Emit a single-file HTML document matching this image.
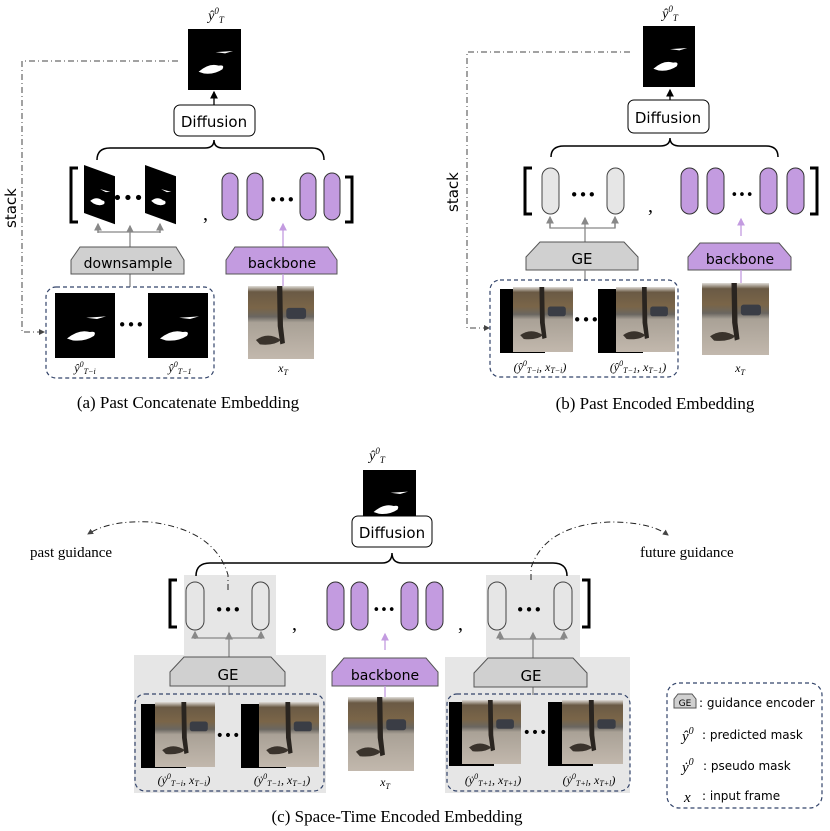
<!DOCTYPE html>
<html><head><meta charset="utf-8"><style>
html,body{margin:0;padding:0;background:#fff}
svg{display:block}
.lb{font-family:"DejaVu Sans","Liberation Sans",sans-serif}
.sf{font-family:"Liberation Serif",serif}
</style></head><body>
<svg width="830" height="831" viewBox="0 0 830 831" xmlns="http://www.w3.org/2000/svg">
<defs>
<linearGradient id="pg" x1="0" y1="0" x2="0" y2="1">
<stop offset="0" stop-color="#e0ddd8"/><stop offset="0.08" stop-color="#6a5a45"/><stop offset="0.3" stop-color="#7a6548"/><stop offset="0.42" stop-color="#6a6660"/><stop offset="0.5" stop-color="#a9a196"/><stop offset="1" stop-color="#c2b8ad"/>
</linearGradient>
<g id="photo"><rect width="100" height="100" fill="url(#pg)"/><rect x="58" y="30" width="30" height="15" rx="4" fill="#3a3d45"/><path d="M44 0 L52 0 L53 55 L56 78 L49 80 L45 55Z" fill="#2a2520"/><path d="M12 74 Q30 62 50 74 Q40 82 18 80Z" fill="#3a332c"/></g>
<g id="mask"><rect width="100" height="100" fill="#000"/><path d="M52 38 L85 36 L70 40Z M20 70 Q40 55 58 60 Q70 58 65 66 Q50 75 30 73Z" fill="#fff"/></g>
<marker id="ak" markerWidth="6" markerHeight="6" refX="5" refY="3" orient="auto"><path d="M0 0 L6 3 L0 6Z" fill="#000"/></marker>
<marker id="ag" markerWidth="6" markerHeight="6" refX="5" refY="3" orient="auto"><path d="M0 0 L6 3 L0 6Z" fill="#888"/></marker>
<marker id="ap" markerWidth="6" markerHeight="6" refX="5" refY="3" orient="auto"><path d="M0 0 L6 3 L0 6Z" fill="#c39be0"/></marker>
<marker id="ad" markerWidth="6" markerHeight="6" refX="5" refY="3" orient="auto"><path d="M0 0 L6 3 L0 6Z" fill="#444"/></marker>
</defs>

<!-- ===== Panel (a) ===== -->
<text x="216" y="20" class="sf" font-size="14" font-style="italic" text-anchor="middle">ŷ<tspan font-size="9" dy="-6">0</tspan><tspan font-size="9" dy="9">T</tspan></text>
<use href="#mask" transform="translate(188,29) scale(0.53,0.61)"/>
<path d="M178 61 H22 V332 H44" fill="none" stroke="#444" stroke-width="1" stroke-dasharray="6,3,1,3" marker-end="url(#ad)"/>
<text x="0" y="0" class="lb" font-size="15" transform="translate(16,228) rotate(-90)">stack</text>
<line x1="214" y1="105" x2="214" y2="92" stroke="#000" stroke-width="1.3" marker-end="url(#ak)"/>
<rect x="174" y="105" width="81" height="31" rx="6" fill="#fff" stroke="#000" stroke-width="1"/>
<text x="214" y="127" class="lb" font-size="15" text-anchor="middle">Diffusion</text>
<path d="M97 160 Q97 148 110 148 H205 Q214 148 214 140 Q214 148 223 148 H312 Q324 148 324 160" fill="none" stroke="#000" stroke-width="1.5"/>
<path d="M78 168 H71 V222 H78" fill="none" stroke="#000" stroke-width="3"/>
<path d="M345 177 H352 V222 H345" fill="none" stroke="#000" stroke-width="3"/>
<g transform="translate(84,165) skewY(20)"><use href="#mask" transform="scale(0.31,0.48)"/></g>
<g transform="translate(145,165) skewY(20)"><use href="#mask" transform="scale(0.31,0.48)"/></g>
<text x="128" y="204" font-size="18" text-anchor="middle" class="lb">•••</text>
<text x="203" y="220" font-size="20" class="sf">,</text>
<g fill="#c39be0" stroke="#333" stroke-width="1"><rect x="222" y="173" width="16" height="47" rx="8"/><rect x="247" y="173" width="16" height="47" rx="8"/><rect x="300" y="173" width="16" height="47" rx="8"/><rect x="324" y="173" width="16" height="47" rx="8"/></g>
<text x="282" y="205" font-size="15" text-anchor="middle" class="lb">•••</text>
<line x1="283" y1="250" x2="283" y2="224" stroke="#c39be0" stroke-width="1.3" marker-end="url(#ap)"/>
<g stroke="#888" stroke-width="1.3" fill="none"><line x1="130" y1="287" x2="130" y2="226" marker-end="url(#ag)"/><path d="M98 226 V232 H160 V226"/><line x1="98" y1="233" x2="98" y2="224" marker-end="url(#ag)"/><line x1="160" y1="233" x2="160" y2="224" marker-end="url(#ag)"/></g>
<polygon points="71,260 80,247 176,247 184,260 184,274 71,274" fill="#d0d0d0" stroke="#555" stroke-width="1"/>
<text x="128" y="268" class="lb" font-size="14" text-anchor="middle">downsample</text>
<polygon points="226,260 235,247 328,247 337,260 337,274 226,274" fill="#c39be0" stroke="#555" stroke-width="1"/>
<text x="282" y="268" class="lb" font-size="14" text-anchor="middle">backbone</text>
<line x1="283" y1="274" x2="283" y2="290" stroke="#c39be0" stroke-width="1.3"/>
<rect x="46" y="287" width="168" height="91" rx="10" fill="none" stroke="#33446a" stroke-width="1.2" stroke-dasharray="4,3"/>
<use href="#mask" transform="translate(55,293) scale(0.6,0.65)"/>
<use href="#mask" transform="translate(148,293) scale(0.6,0.65)"/>
<text x="131" y="330" font-size="15" text-anchor="middle" class="lb">•••</text>
<use href="#photo" transform="translate(248,286) scale(0.66,0.73)"/>
<text x="85" y="372" class="sf" font-size="12" font-style="italic" text-anchor="middle">ŷ<tspan font-size="8" dy="-5">0</tspan><tspan font-size="8" dy="7">T−i</tspan></text>
<text x="180" y="372" class="sf" font-size="12" font-style="italic" text-anchor="middle">ŷ<tspan font-size="8" dy="-5">0</tspan><tspan font-size="8" dy="7">T−1</tspan></text>
<text x="283" y="372" class="sf" font-size="12" font-style="italic" text-anchor="middle">x<tspan font-size="8" dy="3">T</tspan></text>
<text x="188" y="408" class="sf" font-size="17" text-anchor="middle">(a) Past Concatenate Embedding</text>

<!-- ===== Panel (b) ===== -->
<text x="670" y="18" class="sf" font-size="14" font-style="italic" text-anchor="middle">ŷ<tspan font-size="9" dy="-6">0</tspan><tspan font-size="9" dy="9">T</tspan></text>
<use href="#mask" transform="translate(643,26) scale(0.52,0.61)"/>
<path d="M630 52 H467 V328 H489" fill="none" stroke="#444" stroke-width="1" stroke-dasharray="6,3,1,3" marker-end="url(#ad)"/>
<text x="0" y="0" class="lb" font-size="15" transform="translate(458,212) rotate(-90)">stack</text>
<line x1="670" y1="100" x2="670" y2="90" stroke="#000" stroke-width="1.3" marker-end="url(#ak)"/>
<rect x="628" y="100" width="81" height="33" rx="6" fill="#fff" stroke="#000" stroke-width="1"/>
<text x="668" y="123" class="lb" font-size="15" text-anchor="middle">Diffusion</text>
<path d="M551 157 Q551 146 564 146 H660 Q670 146 670 138 Q670 146 680 146 H766 Q778 146 778 157" fill="none" stroke="#000" stroke-width="1.5"/>
<path d="M532 168 H525 V214 H532" fill="none" stroke="#000" stroke-width="3"/>
<path d="M810 168 H817 V214 H810" fill="none" stroke="#000" stroke-width="3"/>
<g fill="#e6e6e6" stroke="#444" stroke-width="1"><rect x="542" y="168" width="17" height="46" rx="8.5"/><rect x="607" y="168" width="17" height="46" rx="8.5"/></g>
<text x="583" y="200" font-size="15" text-anchor="middle" class="lb">•••</text>
<text x="648" y="212" font-size="20" class="sf">,</text>
<g fill="#c39be0" stroke="#333" stroke-width="1"><rect x="681" y="168" width="17" height="46" rx="8.5"/><rect x="707" y="168" width="17" height="46" rx="8.5"/><rect x="760" y="168" width="17" height="46" rx="8.5"/><rect x="787" y="168" width="17" height="46" rx="8.5"/></g>
<text x="742" y="199" font-size="13" text-anchor="middle" class="lb">•••</text>
<line x1="741" y1="236" x2="741" y2="219" stroke="#c39be0" stroke-width="1.3" marker-end="url(#ap)"/>
<g stroke="#888" stroke-width="1.3" fill="none"><line x1="585" y1="242" x2="585" y2="218" marker-end="url(#ag)"/><path d="M550 220 V228 H615 V220"/><line x1="550" y1="228" x2="550" y2="217" marker-end="url(#ag)"/><line x1="615" y1="228" x2="615" y2="217" marker-end="url(#ag)"/></g>
<polygon points="526,257 540,242 624,242 638,257 638,270 526,270" fill="#d0d0d0" stroke="#555" stroke-width="1"/>
<text x="582" y="264" class="lb" font-size="15" text-anchor="middle">GE</text>
<polygon points="688,257 700,243 779,243 791,257 791,270 688,270" fill="#c39be0" stroke="#555" stroke-width="1"/>
<text x="740" y="264" class="lb" font-size="14" text-anchor="middle">backbone</text>
<line x1="741" y1="270" x2="741" y2="285" stroke="#c39be0" stroke-width="1.3"/>
<line x1="585" y1="270" x2="585" y2="281" stroke="#888" stroke-width="1.3"/>
<rect x="490" y="280" width="188" height="97" rx="10" fill="none" stroke="#33446a" stroke-width="1.2" stroke-dasharray="4,3"/>
<rect x="500" y="289" width="45" height="64" fill="#000"/><use href="#photo" transform="translate(513,287) scale(0.6,0.65)"/>
<rect x="598" y="289" width="45" height="64" fill="#000"/><use href="#photo" transform="translate(616,287) scale(0.59,0.65)"/>
<text x="586" y="325" font-size="15" text-anchor="middle" class="lb">•••</text>
<use href="#photo" transform="translate(702,283) scale(0.67,0.72)"/>
<text x="540" y="371" class="sf" font-size="12" font-style="italic" text-anchor="middle">(ŷ<tspan font-size="8" dy="-5">0</tspan><tspan font-size="8" dy="7">T−i</tspan><tspan dy="-2">, x</tspan><tspan font-size="8" dy="2">T−i</tspan><tspan dy="-2">)</tspan></text>
<text x="638" y="371" class="sf" font-size="12" font-style="italic" text-anchor="middle">(ŷ<tspan font-size="8" dy="-5">0</tspan><tspan font-size="8" dy="7">T−1</tspan><tspan dy="-2">, x</tspan><tspan font-size="8" dy="2">T−1</tspan><tspan dy="-2">)</tspan></text>
<text x="740" y="372" class="sf" font-size="12" font-style="italic" text-anchor="middle">x<tspan font-size="8" dy="3">T</tspan></text>
<text x="655" y="409" class="sf" font-size="17" text-anchor="middle">(b) Past Encoded Embedding</text>

<!-- ===== Panel (c) ===== -->
<text x="377" y="460" class="sf" font-size="14" font-style="italic" text-anchor="middle">ŷ<tspan font-size="9" dy="-6">0</tspan><tspan font-size="9" dy="9">T</tspan></text>
<use href="#mask" transform="translate(363,470) scale(0.53,0.6)"/>
<line x1="390" y1="516" x2="390" y2="533" stroke="#000" stroke-width="1.3" marker-end="url(#ak)" transform="rotate(180 390 524.5)"/>
<rect x="352" y="516" width="80" height="31" rx="6" fill="#fff" stroke="#000" stroke-width="1"/>
<text x="392" y="538" class="lb" font-size="15" text-anchor="middle">Diffusion</text>
<rect x="184" y="575" width="92" height="80" fill="#e6e6e6"/>
<rect x="134" y="655" width="192" height="138" fill="#e6e6e6"/>
<rect x="486" y="575" width="94" height="82" fill="#e6e6e6"/>
<rect x="445" y="657" width="185" height="136" fill="#e6e6e6"/>
<path d="M196 576 Q196 563 210 563 H382 Q392 563 392 553 Q392 563 402 563 H553 Q567 563 567 576" fill="none" stroke="#000" stroke-width="1.5"/>
<path d="M228 590 V575 Q215 530 150 522 Q110 520 88 534" fill="none" stroke="#222" stroke-width="1" stroke-dasharray="6,3,1,3" marker-end="url(#ad)"/>
<path d="M531 580 V568 Q545 525 610 522 Q650 522 668 535" fill="none" stroke="#222" stroke-width="1" stroke-dasharray="6,3,1,3" marker-end="url(#ad)"/>
<text x="30" y="557" class="sf" font-size="15">past guidance</text>
<text x="640" y="557" class="sf" font-size="15">future guidance</text>
<path d="M177 580 H170 V627 H177" fill="none" stroke="#000" stroke-width="3"/>
<path d="M582 580 H589 V627 H582" fill="none" stroke="#000" stroke-width="3"/>
<g fill="#e6e6e6" stroke="#444" stroke-width="1"><rect x="186" y="582" width="18" height="48" rx="9"/><rect x="252" y="582" width="17" height="48" rx="8.5"/><rect x="488" y="582" width="18" height="48" rx="9"/><rect x="554" y="582" width="18" height="48" rx="9"/></g>
<text x="228" y="615" font-size="15" text-anchor="middle" class="lb">•••</text>
<text x="529" y="615" font-size="15" text-anchor="middle" class="lb">•••</text>
<text x="292" y="630" font-size="20" class="sf">,</text>
<text x="458" y="630" font-size="20" class="sf">,</text>
<g fill="#c39be0" stroke="#333" stroke-width="1"><rect x="327" y="582" width="17" height="48" rx="8.5"/><rect x="351" y="582" width="17" height="48" rx="8.5"/><rect x="401" y="582" width="17" height="48" rx="8.5"/><rect x="426" y="582" width="17" height="48" rx="8.5"/></g>
<text x="384" y="614" font-size="13" text-anchor="middle" class="lb">•••</text>
<line x1="385" y1="650" x2="385" y2="634" stroke="#c39be0" stroke-width="1.3" marker-end="url(#ap)"/>
<g stroke="#888" stroke-width="1.3" fill="none"><line x1="229" y1="657" x2="229" y2="633" marker-end="url(#ag)"/><path d="M195 633 V638 H261 V633"/><line x1="195" y1="639" x2="195" y2="632" marker-end="url(#ag)"/><line x1="261" y1="639" x2="261" y2="632" marker-end="url(#ag)"/>
<line x1="533" y1="658" x2="533" y2="633" marker-end="url(#ag)"/><path d="M500 633 V639 H564 V633"/><line x1="500" y1="640" x2="500" y2="632" marker-end="url(#ag)"/><line x1="564" y1="640" x2="564" y2="632" marker-end="url(#ag)"/>
<line x1="229" y1="686" x2="229" y2="695"/><line x1="533" y1="687" x2="533" y2="695"/></g>
<polygon points="170,672 184,657 271,657 285,672 285,686 170,686" fill="#d0d0d0" stroke="#555" stroke-width="1"/>
<text x="228" y="680" class="lb" font-size="15" text-anchor="middle">GE</text>
<polygon points="474,673 488,658 573,658 587,673 587,687 474,687" fill="#d0d0d0" stroke="#555" stroke-width="1"/>
<text x="531" y="681" class="lb" font-size="15" text-anchor="middle">GE</text>
<polygon points="332,672 344,658 426,658 438,672 438,686 332,686" fill="#c39be0" stroke="#555" stroke-width="1"/>
<text x="385" y="680" class="lb" font-size="14" text-anchor="middle">backbone</text>
<line x1="385" y1="686" x2="385" y2="699" stroke="#c39be0" stroke-width="1.3"/>
<rect x="135" y="694" width="189" height="97" rx="10" fill="none" stroke="#33446a" stroke-width="1.2" stroke-dasharray="4,3"/>
<rect x="447" y="694" width="183" height="97" rx="10" fill="none" stroke="#33446a" stroke-width="1.2" stroke-dasharray="4,3"/>
<rect x="141" y="704" width="45" height="64" fill="#000"/><use href="#photo" transform="translate(155,702) scale(0.6,0.65)"/>
<rect x="241" y="704" width="45" height="64" fill="#000"/><use href="#photo" transform="translate(259,702) scale(0.6,0.65)"/>
<rect x="449" y="702" width="45" height="64" fill="#000"/><use href="#photo" transform="translate(462,700) scale(0.59,0.64)"/>
<rect x="548" y="702" width="45" height="64" fill="#000"/><use href="#photo" transform="translate(562,700) scale(0.61,0.64)"/>
<text x="228" y="740" font-size="14" text-anchor="middle" class="lb">•••</text>
<text x="535" y="737" font-size="14" text-anchor="middle" class="lb">•••</text>
<use href="#photo" transform="translate(348,697) scale(0.66,0.74)"/>
<g class="sf" font-size="12" font-style="italic" text-anchor="middle">
<text x="184" y="784">(ẏ<tspan font-size="8" dy="-5">0</tspan><tspan font-size="8" dy="7">T−i</tspan><tspan dy="-2">, x</tspan><tspan font-size="8" dy="2">T−i</tspan><tspan dy="-2">)</tspan></text>
<text x="282" y="784">(ẏ<tspan font-size="8" dy="-5">0</tspan><tspan font-size="8" dy="7">T−1</tspan><tspan dy="-2">, x</tspan><tspan font-size="8" dy="2">T−1</tspan><tspan dy="-2">)</tspan></text>
<text x="493" y="784">(ẏ<tspan font-size="8" dy="-5">0</tspan><tspan font-size="8" dy="7">T+1</tspan><tspan dy="-2">, x</tspan><tspan font-size="8" dy="2">T+1</tspan><tspan dy="-2">)</tspan></text>
<text x="589" y="784">(ẏ<tspan font-size="8" dy="-5">0</tspan><tspan font-size="8" dy="7">T+l</tspan><tspan dy="-2">, x</tspan><tspan font-size="8" dy="2">T+l</tspan><tspan dy="-2">)</tspan></text>
<text x="385" y="786">x<tspan font-size="8" dy="3">T</tspan></text>
</g>
<text x="397" y="822" class="sf" font-size="17" text-anchor="middle">(c) Space-Time Encoded Embedding</text>

<!-- legend -->
<rect x="667" y="683" width="155" height="125" rx="12" fill="none" stroke="#33446a" stroke-width="1.2" stroke-dasharray="4,3"/>
<polygon points="674,699 678,694 692,694 696,699 696,708 674,708" fill="#d0d0d0" stroke="#555" stroke-width="1"/>
<text x="685" y="706" class="lb" font-size="9" text-anchor="middle">GE</text>
<g class="lb" font-size="12"><text x="699" y="707">: guidance encoder</text><text x="702" y="739">: predicted mask</text><text x="703" y="770">: pseudo mask</text><text x="702" y="800">: input frame</text></g>
<g class="sf" font-size="15" font-style="italic"><text x="682" y="741">ŷ<tspan font-size="10" dy="-7">0</tspan></text><text x="682" y="772">ẏ<tspan font-size="10" dy="-7">0</tspan></text><text x="684" y="802">x</text></g>
</svg>
</body></html>
